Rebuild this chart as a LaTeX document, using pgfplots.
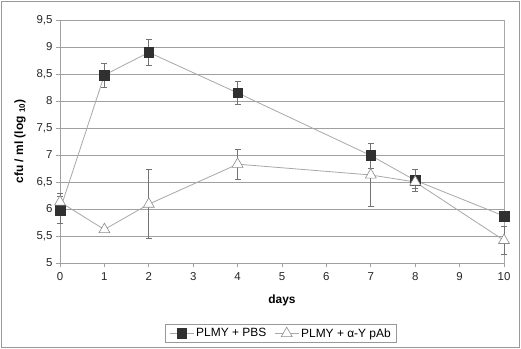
\documentclass[border=0pt]{standalone}
\usepackage{pgfplots}
\pgfplotsset{compat=1.18}
\usepackage{fontspec}
\setmainfont{Liberation Sans}
\definecolor{gridc}{HTML}{A0A0A0}
\definecolor{linec}{HTML}{A8A8A8}
\definecolor{sqc}{HTML}{303030}
\begin{document}
\begin{tikzpicture}
\useasboundingbox (0,0) rectangle (521bp,349bp);
\fill[white] (0,0) rectangle (521bp,349bp);
\draw[color=gray!80, line width=1.2bp] (1.5bp,1.5bp) rectangle (519.5bp,347.5bp);
\begin{axis}[
  at={(60bp,86bp)}, anchor=south west,
  scale only axis, width=444bp, height=243bp,
  xmin=0, xmax=10, ymin=5, ymax=9.5,
  xtick={0,1,...,10}, ytick={5,5.5,...,9.5},
  yticklabel style={/pgf/number format/.cd, use comma, fixed, fixed zerofill=false},
  /pgf/number format/assume math mode=true,
  axis x line*=bottom, axis y line*=left,
  axis line style={gridc, line width=0.8bp, -},
  tick style={gridc, line width=0.8bp},
  tick align=outside, major tick length=4bp,
  ymajorgrids, grid style={gridc, line width=0.8bp},
  tick label style={font=\fontsize{11.5}{13}\selectfont, color=black!85},
  xticklabel style={yshift=-2bp},
  xlabel={\textbf{days}}, ylabel={\textbf{cfu / ml (log \textsubscript{10})}},
  xlabel style={at={(axis description cs:0.5,-0.152)}, anchor=center, font=\fontsize{12}{14}\selectfont},
  ylabel style={at={(axis description cs:-0.09,0.5)}, anchor=center, rotate=0, font=\fontsize{12}{14}\selectfont},
  legend columns=2,
  legend style={at={(axis description cs:0.498,-0.29)}, anchor=center, draw=gray!80, line width=0.8bp,
    font=\fontsize{12}{14}\selectfont, /tikz/every even column/.append style={column sep=6bp},
    inner ysep=1.5bp, inner xsep=4bp},
  legend image code/.code={\draw[mark repeat=2,mark phase=2,#1] plot coordinates {(0bp,0bp) (12bp,0bp) (24bp,0bp)};},
  clip=false,
]
\draw[linec, line width=0.8bp] (axis cs:10,5) -- (axis cs:10,9.5);
\addplot[linec, line width=0.8bp, mark=square*, mark size=4.8bp,
  mark options={fill=sqc, draw=sqc, line width=0.5bp},
  error bars/.cd, y dir=both, y explicit,
  error bar style={color=black!55, line width=0.7bp},
  error mark options={rotate=90, mark size=3bp, color=black!55, line width=0.7bp}]
  coordinates {
  (0,5.98) +- (0,0.25)
  (1,8.48) +- (0,0.22)
  (2,8.90) +- (0,0.24)
  (4,8.15) +- (0,0.22)
  (7,6.99) +- (0,0.23)
  (8,6.53) +- (0,0.20)
  (10,5.87) +- (0,0.05)
  };
\addlegendentry{PLMY + PBS}
\addplot[linec, line width=0.8bp, mark=triangle*, mark size=6.3bp,
  mark options={fill=white, draw=black!45, line width=0.6bp},
  error bars/.cd, y dir=both, y explicit,
  error bar style={color=black!55, line width=0.7bp},
  error mark options={rotate=90, mark size=3bp, color=black!55, line width=0.7bp}]
  coordinates {
  (0,6.13) +- (0,0.16)
  (1,5.62) +- (0,0.04)
  (2,6.09) +- (0,0.64)
  (4,6.83) +- (0,0.28)
  (7,6.63) +- (0,0.58)
  (8,6.50) +- (0,0.12)
  (10,5.42) +- (0,0.26)
  };
\addlegendentry{PLMY + α-Y pAb}
\end{axis}
\end{tikzpicture}
\end{document}
